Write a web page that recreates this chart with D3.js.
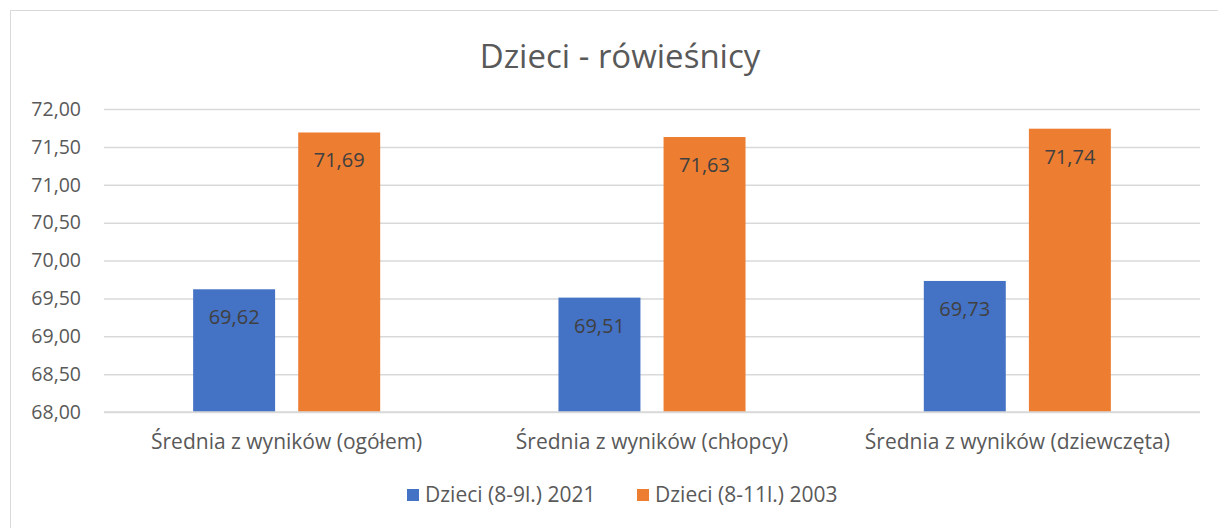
<!DOCTYPE html>
<html><head><meta charset="utf-8">
<script src="https://cdn.jsdelivr.net/npm/d3@7"></script>
<style>body{margin:0;background:#fff}svg{display:block}text{font-family:"Open Sans",Calibri,sans-serif}</style>
</head><body>
<svg id="c" width="1218" height="528"></svg>
<script>
const categories = ["Średnia z wyników (ogółem)", "Średnia z wyników (chłopcy)", "Średnia z wyników (dziewczęta)"];
const seriesNames = ["Dzieci (8-9l.) 2021", "Dzieci (8-11l.) 2003"];
const series2021 = [69.62, 69.51, 69.73];
const series2003 = [71.69, 71.63, 71.74];
const yTicks = [68, 68.5, 69, 69.5, 70, 70.5, 71, 71.5, 72];
const colors = ["#4472C4", "#ED7D31"];
const title = "Dzieci - rówieśnicy";

const svg = d3.select("#c");
const fmt = v => v.toFixed(2).replace(".", ",");
svg.append("rect").attr("x",10.5).attr("y",10.5).attr("width",1230).attr("height",540)
  .attr("fill","#fff").attr("stroke","#d9d9d9");

const m = {l:104, r:1200, t:109, b:412};
const y = d3.scaleLinear().domain([68,72]).range([m.b, m.t]);
const x0 = d3.scaleBand().domain(categories).range([m.l, m.r]);
const bw = x0.bandwidth();
const x1 = d3.scaleBand().domain(seriesNames).range([bw*0.244, bw*0.756]).paddingInner(0.22);

svg.append("text").attr("x",620).attr("y",68).attr("text-anchor","middle")
  .attr("font-size",33).attr("fill","#595959").text(title);

const ya = svg.append("g").attr("transform",`translate(${m.l},0)`)
  .call(d3.axisLeft(y).tickValues(yTicks).tickSize(-(m.r-m.l)).tickFormat(fmt).tickPadding(23));
ya.select(".domain").remove();
ya.selectAll(".tick line").attr("stroke","#d9d9d9").attr("stroke-width",1.5);
ya.selectAll(".tick text").attr("font-size",19.5).attr("fill","#595959").attr("font-family","'Open Sans',sans-serif");

const xa = svg.append("g").attr("transform",`translate(0,${m.b})`)
  .call(d3.axisBottom(x0).tickSize(0).tickPadding(22));
xa.select(".domain").remove();
xa.selectAll(".tick text").attr("font-size",21).attr("fill","#595959").attr("font-family","'Open Sans',sans-serif");

const data = categories.map((c,i)=>({c, vals:[series2021[i], series2003[i]]}));
const g = svg.selectAll("g.cat").data(data).enter().append("g")
  .attr("transform", d=>`translate(${x0(d.c)},0)`);
g.selectAll("rect").data(d=>d.vals.map((v,j)=>({v, s:seriesNames[j], j}))).enter().append("rect")
  .attr("x", d=>x1(d.s)).attr("width", x1.bandwidth())
  .attr("y", d=>y(d.v)).attr("height", d=>y(68)-y(d.v)).attr("fill", d=>colors[d.j]);
g.selectAll("text.lbl").data(d=>d.vals.map((v,j)=>({v, s:seriesNames[j], j}))).enter().append("text")
  .attr("class","lbl").attr("x", d=>x1(d.s)+x1.bandwidth()/2).attr("y", d=>y(d.v)+35)
  .attr("text-anchor","middle").attr("font-size",20).attr("fill","#404040").text(d=>fmt(d.v));

svg.append("line").attr("x1",m.l).attr("x2",m.r).attr("y1",m.b).attr("y2",m.b).attr("stroke","#d9d9d9").attr("stroke-width",1.5);

const lg = svg.append("g");
const legX = [407, 637];
seriesNames.forEach((s,i)=>{
  lg.append("rect").attr("x",legX[i]).attr("y",489).attr("width",12).attr("height",12).attr("fill",colors[i]);
  lg.append("text").attr("x",legX[i]+18).attr("y",502).attr("font-size",21).attr("fill","#595959").text(s);
});
</script>
</body></html>
